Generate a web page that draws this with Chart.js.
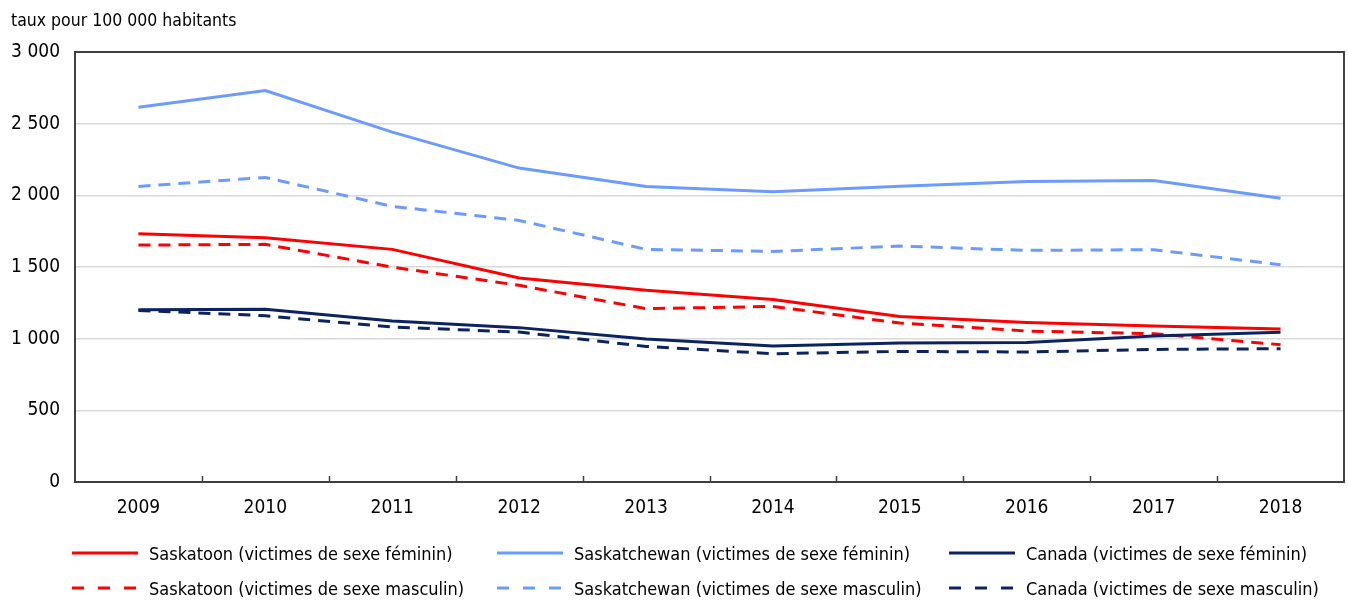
<!DOCTYPE html>
<html>
<head>
<meta charset="utf-8">
<script src="https://cdn.jsdelivr.net/npm/chart.js@4/dist/chart.umd.min.js"></script>
<style>
  html, body { margin: 0; padding: 0; background: #fff; }
  #wrap { position: relative; width: 1348px; height: 600px; }
  canvas { position: absolute; left: 0; top: 0; }
  .leg { position: absolute; height: 24px; display: flex; align-items: center;
         font-family: 'DejaVu Sans Condensed', 'Liberation Sans', sans-serif;
         font-size: 18px; color: #000; white-space: nowrap; }
  .leg svg { margin-right: 11px; flex: none; }
</style>
</head>
<body>
<div id="wrap">
  <canvas id="c" width="1348" height="600"></canvas>
  <div id="legend"></div>
</div>
<script>
const years = ['2009','2010','2011','2012','2013','2014','2015','2016','2017','2018'];
const saskatoonF = [1732,1704,1623,1423,1337,1274,1155,1112,1088,1067];
const saskatoonM = [1653,1658,1499,1372,1209,1225,1109,1053,1035,958];
const saskatchewanF = [2615,2731,2441,2190,2062,2025,2064,2097,2104,1980];
const saskatchewanM = [2062,2125,1923,1825,1623,1609,1646,1616,1621,1516];
const canadaF = [1202,1206,1123,1077,997,948,969,974,1018,1044];
const canadaM = [1197,1160,1081,1046,946,895,911,907,925,930];
const yMin = 0, yMax = 3000, yStep = 500;
const yTitle = 'taux pour 100 000 habitants';
const seriesLabels = [
  'Saskatoon (victimes de sexe féminin)',
  'Saskatchewan (victimes de sexe féminin)',
  'Canada (victimes de sexe féminin)',
  'Saskatoon (victimes de sexe masculin)',
  'Saskatchewan (victimes de sexe masculin)',
  'Canada (victimes de sexe masculin)'
];

const RED = '#ff0000', BLUE = '#6b9bff', NAVY = '#0b2461';
const FONT = "'DejaVu Sans Condensed', 'Liberation Sans', sans-serif";
const DASH = [12, 8];

function ds(label, data, color, dashed) {
  return { label, data, borderColor: color, backgroundColor: color, borderWidth: 3,
           borderDash: dashed ? DASH : [], pointRadius: 0, pointHoverRadius: 0,
           tension: 0, fill: false };
}

const datasets = [
  ds(seriesLabels[0], saskatoonF, RED, false),
  ds(seriesLabels[1], saskatchewanF, BLUE, false),
  ds(seriesLabels[2], canadaF, NAVY, false),
  ds(seriesLabels[3], saskatoonM, RED, true),
  ds(seriesLabels[4], saskatchewanM, BLUE, true),
  ds(seriesLabels[5], canadaM, NAVY, true)
];

const frame = {
  id: 'frame',
  afterDatasetsDraw(chart) {
    const { ctx, chartArea: a, scales: { x } } = chart;
    ctx.save();
    ctx.strokeStyle = '#404040';
    ctx.lineWidth = 2;
    ctx.strokeRect(a.left, a.top, a.right - a.left, a.bottom - a.top);
    ctx.lineWidth = 1.5;
    for (let i = 1; i < years.length; i++) {
      const px = (x.getPixelForValue(i - 1) + x.getPixelForValue(i)) / 2;
      ctx.beginPath();
      ctx.moveTo(Math.round(px) + 0.5, a.bottom);
      ctx.lineTo(Math.round(px) + 0.5, a.bottom - 6);
      ctx.stroke();
    }
    ctx.restore();
  }
};

new Chart(document.getElementById('c'), {
  type: 'line',
  data: { labels: years, datasets },
  plugins: [frame],
  options: {
    responsive: false,
    devicePixelRatio: 1,
    animation: false,
    layout: { padding: { left: 11, right: 4, top: 0, bottom: 78 } },
    plugins: {
      legend: { display: false },
      tooltip: { enabled: false },
      title: {
        display: true, text: yTitle, align: 'start', color: '#000',
        font: { family: FONT, size: 17.5, weight: 'normal' },
        padding: { top: 11, bottom: 20 }
      }
    },
    scales: {
      x: {
        type: 'category', offset: true,
        grid: { display: false, drawTicks: false },
        border: { display: false },
        ticks: { color: '#000', font: { family: FONT, size: 19 }, padding: 15, maxRotation: 0 },
        afterFit(s) { s.height = 40; }
      },
      y: {
        min: yMin, max: yMax,
        grid: { color: '#d9d9d9', lineWidth: 1.5, drawTicks: false },
        border: { display: false },
        ticks: {
          stepSize: yStep, color: '#000', padding: 15,
          font: { family: FONT, size: 19 },
          callback: v => String(v).replace(/\B(?=(\d{3})+(?!\d))/g, ' ')
        },
        afterFit(s) { s.width = 64; }
      }
    }
  }
});

// HTML legend: 3 columns x 2 rows
const legendCols = [72, 497, 949];
const legend = document.getElementById('legend');
datasets.forEach((d, i) => {
  const col = i % 3, row = Math.floor(i / 3);
  const el = document.createElement('div');
  el.className = 'leg';
  el.style.left = legendCols[col] + 'px';
  el.style.top = (541 + row * 35) + 'px';
  const dash = d.borderDash.length ? 'stroke-dasharray="12 14"' : '';
  el.innerHTML = '<svg width="66" height="4"><line x1="0" y1="2" x2="66" y2="2" stroke="' +
    d.borderColor + '" stroke-width="3" ' + dash + '/></svg><span>' + d.label + '</span>';
  legend.appendChild(el);
});
</script>
</body>
</html>
